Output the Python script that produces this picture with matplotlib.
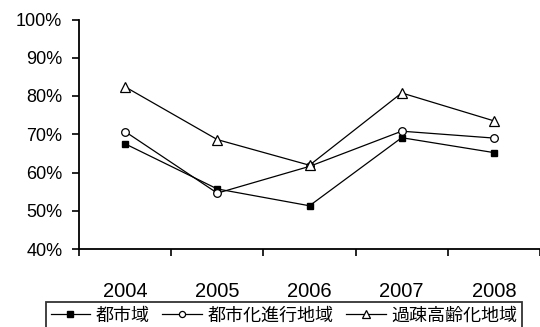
import numpy as np
import matplotlib
matplotlib.use('Agg')
import matplotlib.pyplot as plt
from matplotlib.ticker import FuncFormatter

plt.rcParams['font.family'] = ['Liberation Sans', 'Noto Sans CJK JP', 'DejaVu Sans']

years = ['2004', '2005', '2006', '2007', '2008']
urban = [67.5, 55.7, 51.3, 69.1, 65.2]          # 都市域
urbanizing = [70.7, 54.6, 61.6, 70.8, 69.0]     # 都市化進行地域
depopulated = [82.4, 68.6, 61.9, 80.8, 73.5]    # 過疎高齢化地域
series_names = ['都市域', '都市化進行地域', '過疎高齢化地域']
y_ticks = [40, 50, 60, 70, 80, 90, 100]


def main():
    fig = plt.figure(figsize=(5.4, 3.27), dpi=100)
    ax = fig.add_axes([79 / 540, 1 - 249 / 327, 1 - 79 / 540, (249 - 19.5) / 327])

    x = np.arange(len(years))
    ax.plot(x, urban, color='black', lw=0.9, marker='s', ms=5,
            mfc='black', mec='black', label=series_names[0])
    ax.plot(x, urbanizing, color='black', lw=0.9, marker='o', ms=5.5,
            mfc='white', mec='black', mew=0.9, label=series_names[1])
    ax.plot(x, depopulated, color='black', lw=0.9, marker='^', ms=6.5,
            mfc='white', mec='black', mew=0.9, label=series_names[2])

    ax.set_xlim(-0.5, len(years) - 0.5)
    ax.set_ylim(40, 100)
    ax.set_yticks(y_ticks)
    ax.yaxis.set_major_formatter(FuncFormatter(lambda v, p: f'{v:.0f}%'))

    ax.set_xticks(x)
    ax.set_xticklabels(years)
    ax.set_xticks(np.arange(-0.5, len(years)), minor=True)
    ax.tick_params(axis='x', which='major', length=0, pad=24, labelsize=14.5)
    ax.tick_params(axis='x', which='minor', length=5, width=1.2, direction='out')
    ax.tick_params(axis='y', length=5, width=1.2, pad=7, labelsize=13)

    for s in ['top', 'right']:
        ax.spines[s].set_visible(False)
    for s in ['left', 'bottom']:
        ax.spines[s].set_linewidth(1.3)

    leg = fig.legend(loc='upper left', bbox_to_anchor=(46 / 540, 1 - 302 / 327),
                     ncol=3, frameon=True, fancybox=False, borderaxespad=0,
                     handlelength=2.2, handletextpad=0.3, columnspacing=0.7,
                     markerscale=0.8, borderpad=0.25,
                     prop={'family': ['Noto Sans CJK JP'], 'size': 13})
    leg.get_frame().set_edgecolor('black')
    leg.get_frame().set_linewidth(1.3)

    fig.savefig('out.png', dpi=100)
    plt.close(fig)


if __name__ == "__main__":
    main()
